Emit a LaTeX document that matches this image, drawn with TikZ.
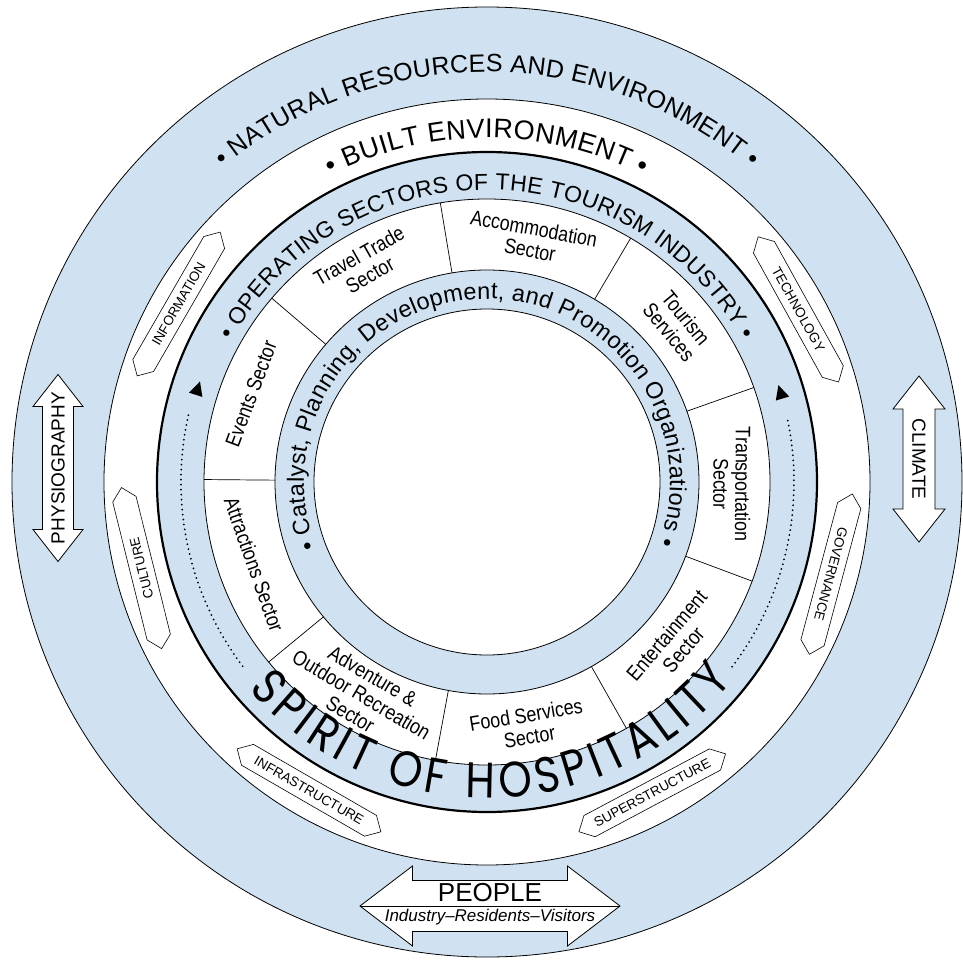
\documentclass[tikz,border=0pt]{standalone}
\usepackage{fontspec}
\setmainfont{Liberation Sans}
\newfontfamily\narrowfont[FakeStretch=0.85]{Liberation Sans}
\newfontfamily\handfont[FakeStretch=0.85]{Poppins}
\usetikzlibrary{decorations.text, calc}
\definecolor{ringblue}{RGB}{208,226,242}

\begin{document}
\begin{tikzpicture}[x=1pt, y=1pt,
    ring/.style={draw=black, line width=0.8pt},
    divider/.style={draw=black, line width=0.7pt},
    sectorlabel/.style={font=\narrowfont\fontsize{21}{22}\selectfont, align=center, inner sep=0pt},
    tagbox/.style={draw=black, fill=white, line width=0.6pt},
    tagtext/.style={font=\fontsize{13.5}{14}\selectfont, inner sep=0pt},
    arrowbox/.style={draw=black, fill=white, line width=0.8pt},
    arrowtext/.style={font=\fontsize{19}{19}\selectfont, inner sep=0pt},
    arctext/.style={decorate, decoration={text along path, text align={fit to path}, text format delimiters={|}{|}}},
    flowdots/.style={line width=2pt, line cap=round, dash pattern=on 0pt off 5pt}]
  \useasboundingbox (-487,-477) rectangle (476,482);
  % Rings
  \filldraw[ring, fill=ringblue] (0,0) circle[radius=475];
  \filldraw[ring, fill=white] (0,0) circle[radius=383];
  \filldraw[ring, fill=ringblue, line width=2.2pt] (0,0) circle[radius=330];
  \filldraw[ring, fill=white] (0,0) circle[radius=283];
  \filldraw[ring, fill=ringblue] (0,0) circle[radius=212];
  \filldraw[ring, fill=white] (0,0) circle[radius=173];
  % Sector dividers
  \draw[divider] (19.5:212) -- (19.5:283);
  \draw[divider] (59.5:212) -- (59.5:283);
  \draw[divider] (99.5:212) -- (99.5:283);
  \draw[divider] (139.5:212) -- (139.5:283);
  \draw[divider] (179.5:212) -- (179.5:283);
  \draw[divider] (219.5:212) -- (219.5:283);
  \draw[divider] (259.5:212) -- (259.5:283);
  \draw[divider] (299.5:212) -- (299.5:283);
  \draw[divider] (339.5:212) -- (339.5:283);
  % Sector labels
  \node[sectorlabel, rotate=-10.5] (accommodation) at (79.5:247) {Accommodation\\Sector};
  \node[sectorlabel, rotate=29.5] (traveltrade) at (119.5:249) {Travel Trade\\Sector};
  \node[sectorlabel, rotate=69.5] (events) at (159.5:252) {Events Sector};
  \node[sectorlabel, rotate=-70.5] (attractions) at (199.5:247) {Attractions Sector};
  \node[sectorlabel, rotate=-30.5] (adventure) at (239.5:247) {Adventure \&\\Outdoor Recreation\\Sector};
  \node[sectorlabel, rotate=9.5] (food) at (279.5:247) {Food Services\\Sector};
  \node[sectorlabel, rotate=49.5] (entertainment) at (319.5:247) {Entertainment\\Sector};
  \node[sectorlabel, rotate=-90.5] (transportation) at (359.5:245) {Transportation\\Sector};
  \node[sectorlabel, rotate=-50.5] (tourism) at (39.5:247) {Tourism\\Services};
  % Ring titles
  \path[arctext, decoration={text={|\fontsize{25}{25}\selectfont|• NATURAL RESOURCES AND ENVIRONMENT •}}]
    (130:410) arc[start angle=130, end angle=50, radius=410];
  \path[arctext, decoration={text={|\fontsize{27}{27}\selectfont|• BUILT ENVIRONMENT •}}]
    (117:344) arc[start angle=117, end angle=63, radius=344];
  \path[arctext, decoration={text={|\fontsize{23}{23}\selectfont|• OPERATING SECTORS OF THE TOURISM INDUSTRY •}}]
    (151:292) arc[start angle=151, end angle=29, radius=292];
  \path[arctext, decoration={text={|\fontsize{23.5}{23.5}\selectfont|• Catalyst, Planning, Development, and Promotion Organizations •}}]
    (201:183) arc[start angle=201, end angle=-20, radius=183];
  \path[arctext, decoration={text={|\handfont\fontsize{50}{50}\selectfont|SPIRIT OF HOSPITALITY}}]
    (221:316) arc[start angle=221, end angle=321, radius=316];
  % Dotted flow lines
  \draw[flowdots] (217:306) arc[start angle=217, end angle=167, radius=306];
  \draw[flowdots] (-37:307) arc[start angle=-37, end angle=12, radius=307];
  \begin{scope}[shift={(162.3:304)}, rotate=-17.7]
    \fill (0,8.5) -- (-7,-5.5) -- (7,-5.5) -- cycle;
  \end{scope}
  \begin{scope}[shift={(16.8:307)}, rotate=16.8]
    \fill (0,8.5) -- (-7,-5.5) -- (7,-5.5) -- cycle;
  \end{scope}
  % Flat tags
  \begin{scope}[shift={(150:356)}, rotate=60]
    \draw[tagbox] (-83,0) -- (-71,12) -- (71,12) -- (83,0) -- (71,-12) -- (-71,-12) -- cycle;
  \end{scope}
  \node[tagtext, rotate=60] (information) at (150:356) {INFORMATION};
  \begin{scope}[shift={(29:356)}, rotate=-61]
    \draw[tagbox] (-83,0) -- (-71,12) -- (71,12) -- (83,0) -- (71,-12) -- (-71,-12) -- cycle;
  \end{scope}
  \node[tagtext, rotate=-61] (technology) at (29:356) {TECHNOLOGY};
  \begin{scope}[shift={(194:356)}, rotate=104]
    \draw[tagbox] (-83,0) -- (-71,12) -- (71,12) -- (83,0) -- (71,-12) -- (-71,-12) -- cycle;
  \end{scope}
  \node[tagtext, rotate=104] (culture) at (194:356) {CULTURE};
  \begin{scope}[shift={(-15:356)}, rotate=-105]
    \draw[tagbox] (-83,0) -- (-71,12) -- (71,12) -- (83,0) -- (71,-12) -- (-71,-12) -- cycle;
  \end{scope}
  \node[tagtext, rotate=-105] (governance) at (-15:356) {GOVERNANCE};
  \begin{scope}[shift={(240:356)}, rotate=-30]
    \draw[tagbox] (-83,0) -- (-71,12) -- (71,12) -- (83,0) -- (71,-12) -- (-71,-12) -- cycle;
  \end{scope}
  \node[tagtext, rotate=-30] (infrastructure) at (240:356) {INFRASTRUCTURE};
  \begin{scope}[shift={(298:352)}, rotate=28]
    \draw[tagbox] (-83,0) -- (-71,12) -- (71,12) -- (83,0) -- (71,-12) -- (-71,-12) -- cycle;
  \end{scope}
  \node[tagtext, rotate=28] (superstructure) at (298:352) {SUPERSTRUCTURE};
  % Double arrows
  \begin{scope}[shift={(-429,14)}]
    \draw[arrowbox] (0,93.5) -- (25,61.5) -- (15.5,61.5) -- (15.5,-61.5) -- (25,-61.5) -- (0,-93.5)
      -- (-25,-61.5) -- (-15.5,-61.5) -- (-15.5,61.5) -- (-25,61.5) -- cycle;
    \node[arrowtext, rotate=90] (physiography) at (0,0) {PHYSIOGRAPHY};
  \end{scope}
  \begin{scope}[shift={(432,23)}]
    \draw[arrowbox] (0,83) -- (26,50) -- (16,50) -- (16,-50) -- (26,-50) -- (0,-83)
      -- (-26,-50) -- (-16,-50) -- (-16,50) -- (-26,50) -- cycle;
    \node[arrowtext, rotate=-90] (climate) at (0,0) {CLIMATE};
  \end{scope}
  \begin{scope}[shift={(3,-424)}]
    \draw[arrowbox] (-130,0) -- (-77.5,40) -- (-77.5,25.5) -- (77.5,25.5) -- (77.5,40) -- (130,0)
      -- (77.5,-40) -- (77.5,-25.5) -- (-77.5,-25.5) -- (-77.5,-40) -- cycle;
    \draw[line width=0.8pt] (-130,0) -- (130,0);
    \node[font=\fontsize{26}{26}\selectfont, inner sep=0pt] (people) at (0,13) {PEOPLE};
    \node[font=\itshape\fontsize{17}{17}\selectfont, inner sep=0pt] (groups) at (0,-11) {Industry--Residents--Visitors};
  \end{scope}
\end{tikzpicture}
\end{document}
